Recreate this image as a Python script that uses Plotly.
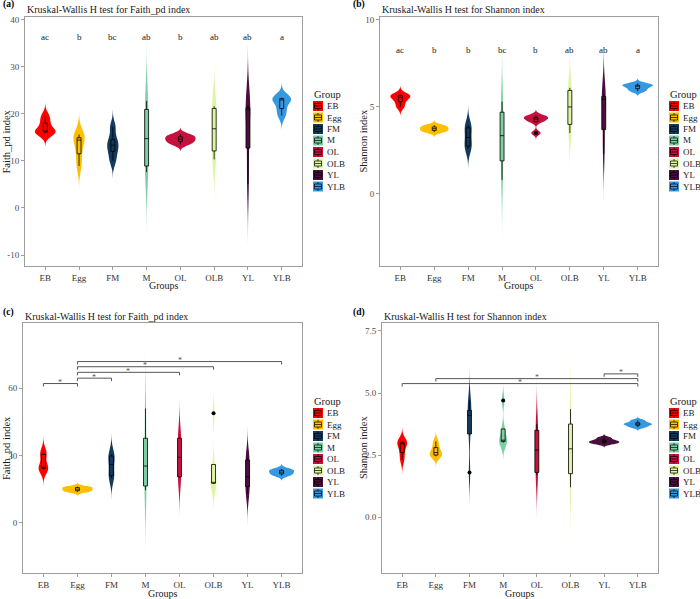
import numpy as np
import plotly.graph_objects as go

W, H = 700, 599

groups = ["EB", "Egg", "FM", "M", "OL", "OLB", "YL", "YLB"]
colors = ["#FF0000", "#FDBF00", "#133A5E", "#7FCFA4", "#C8103F", "#E0F5A3", "#4B0F3E", "#3698E0"]

# ---- values (one list per group, order = groups) ----
faith_a = [
    [15.9, 16.1, 16.3, 18.0, 19.5],
    [8.9, 11.5, 14.4, 14.9, 15.6],
    [10.0, 12.0, 13.3, 14.5, 17.2],
    [7.6, 8.9, 14.7, 20.9, 22.7],
    [13.5, 14.1, 14.6, 15.1, 15.6],
    [10.3, 12.1, 16.8, 21.1, 21.6],
    [5.0, 12.7, 20.9, 21.3, 21.8],
    [19.6, 21.1, 22.9, 23.2, 23.4],
]
shannon_b = [
    [5.0, 5.3, 5.55, 5.65, 5.7],
    [3.55, 3.65, 3.75, 3.85, 3.95],
    [2.6, 2.75, 3.25, 3.8, 3.95],
    [0.8, 1.9, 3.35, 4.7, 5.3],
    [3.5, 4.15, 4.3, 4.4, 4.5],
    [3.5, 4.0, 5.0, 5.95, 6.1],
    [2.3, 3.7, 5.45, 5.6, 5.75],
    [5.9, 6.05, 6.2, 6.25, 6.35],
]
faith_c = [
    [23.8, 24.3, 24.8, 30.5, 31.5],
    [13.8, 14.3, 15.0, 15.7, 16.1],
    [20.0, 21.0, 26.0, 29.8, 30.5],
    [14.5, 16.4, 25.3, 37.7, 51.0],
    [20.0, 20.5, 29.2, 37.7, 38.0],
    [17.3, 17.6, 18.0, 26.0, 48.8],
    [13.0, 16.1, 20.5, 28.0, 29.0],
    [21.0, 21.8, 22.6, 23.4, 24.0],
]
shannon_d = [
    [2.3, 2.6, 2.95, 3.0, 3.05],
    [2.45, 2.5, 2.6, 2.8, 3.05],
    [1.8, 3.35, 4.1, 4.3, 4.7],
    [3.0, 3.05, 3.1, 3.55, 4.7],
    [1.7, 1.8, 2.7, 3.5, 3.75],
    [1.2, 1.75, 2.75, 3.75, 4.35],
    [2.95, 3.0, 3.05, 3.1, 3.2],
    [3.62, 3.7, 3.75, 3.8, 3.9],
]

letters_a = ["ac", "b", "bc", "ab", "b", "ab", "ab", "a"]
letters_b = ["ac", "b", "b", "bc", "b", "ab", "ab", "a"]

sig_c_pairs = [("EB", "Egg"), ("Egg", "FM"), ("Egg", "OL"), ("Egg", "OLB"), ("Egg", "YLB")]
sig_c_y = [62.1, 64.5, 67.1, 69.6, 71.9]
sig_d_pairs = [("EB", "YLB"), ("Egg", "YLB"), ("YL", "YLB")]
sig_d_y = [5.38, 5.58, 5.77]

ticks_a = [-10, 0, 10, 20, 30, 40]
ticktext_a = ["-10", "0", "10", "20", "30", "40"]
ticks_b = [0, 5, 10]
ticktext_b = ["0", "5", "10"]
ticks_c = [0, 30, 60]
ticktext_c = ["0", "30", "60"]
ticks_d = [0, 2.5, 5, 7.5]
ticktext_d = ["0.0", "2.5", "5.0", "7.5"]

FONT = "Liberation Serif"
FRAME = "#9e9e9e"


def nrd0(v):
    v = np.asarray(v, float)
    hi = v.std(ddof=1)
    q75, q25 = np.percentile(v, [75, 25])
    lo = min(hi, (q75 - q25) / 1.34)
    if lo <= 0:
        lo = hi if hi > 0 else (abs(v[0]) if v[0] != 0 else 1.0)
    return 0.9 * lo * len(v) ** -0.2


def px(x):
    return x / W


def py(y):
    return 1 - y / H


panels = [
    dict(key="a", data=faith_a, xd=(25, 302), yd=(17, 266), yr=(-12.3, 40.5),
         tv=ticks_a, tt=ticktext_a, ytitle="Faith_pd index",
         title="Kruskal-Wallis H test for Faith_pd index", tag="(a)",
         tag_x=1, title_x=25, title_y=9, leg_x=313, leg_y=94, letters=letters_a, let_y=36.2,
         ytitle_x=6, xtitle_y=285.5, sig=None),
    dict(key="b", data=shannon_b, xd=(380, 658), yd=(17, 266), yr=(-4.14, 10.17),
         tv=ticks_b, tt=ticktext_b, ytitle="Shannon index",
         title="Kruskal-Wallis H test for Shannon index", tag="(b)",
         tag_x=351, title_x=380, title_y=9, leg_x=669, leg_y=94, letters=letters_b, let_y=8.3,
         ytitle_x=363, xtitle_y=285.5, sig=None),
    dict(key="c", data=faith_c, xd=(23, 302), yd=(323, 573), yr=(-22.4, 89.1),
         tv=ticks_c, tt=ticktext_c, ytitle="Faith_pd index",
         title="Kruskal-Wallis H test for Faith_pd index", tag="(c)",
         tag_x=1, title_x=23, title_y=316, leg_x=313, leg_y=401, letters=None,
         ytitle_x=6, xtitle_y=593.5, sig=(sig_c_pairs, sig_c_y, 1.3)),
    dict(key="d", data=shannon_d, xd=(382, 658), yd=(323, 573), yr=(-2.25, 7.82),
         tv=ticks_d, tt=ticktext_d, ytitle="Shannon index",
         title="Kruskal-Wallis H test for Shannon index", tag="(d)",
         tag_x=351, title_x=382, title_y=316, leg_x=669, leg_y=401, letters=None,
         ytitle_x=363, xtitle_y=593.5, sig=(sig_d_pairs, sig_d_y, 0.12)),
]

fig = go.Figure()
shapes = []
annotations = []
layout_axes = {}

for i, p in enumerate(panels):
    n = i + 1
    xa = "x" if n == 1 else f"x{n}"
    ya = "y" if n == 1 else f"y{n}"
    xname = "xaxis" if n == 1 else f"xaxis{n}"
    yname = "yaxis" if n == 1 else f"yaxis{n}"

    for g, col, vals in zip(groups, colors, p["data"]):
        bw = nrd0(vals)
        fig.add_trace(go.Violin(
            x=[g] * len(vals), y=vals, name=g, xaxis=xa, yaxis=ya,
            fillcolor=col, line=dict(color=col, width=0), opacity=1,
            scalegroup=p["key"], scalemode="width",
            bandwidth=bw, spanmode="manual", span=[min(vals) - 3 * bw, max(vals) + 3 * bw],
            box=dict(visible=True, width=0.13, fillcolor=col,
                     line=dict(color="black", width=0.8)),
            meanline=dict(visible=False), quartilemethod="inclusive",
            points="outliers", pointpos=0, jitter=0,
            marker=dict(color="black", size=4, line=dict(width=0)),
            showlegend=False, hoverinfo="skip",
        ))

    layout_axes[xname] = dict(
        domain=[px(p["xd"][0]), px(p["xd"][1])], anchor=ya, automargin=False,
        type="category", categoryorder="array", categoryarray=groups,
        range=[-0.6, 7.6], showgrid=False, zeroline=False,
        showline=True, mirror=True, linecolor=FRAME, linewidth=1,
        ticks="outside", ticklen=3, tickcolor=FRAME,
        tickfont=dict(family=FONT, size=9, color="#333333"),
    )
    layout_axes[yname] = dict(
        domain=[py(p["yd"][1]), py(p["yd"][0])], anchor=xa, automargin=False,
        range=list(p["yr"]), tickvals=p["tv"], ticktext=p["tt"],
        showgrid=False, zeroline=False,
        showline=True, mirror=True, linecolor=FRAME, linewidth=1,
        ticks="outside", ticklen=3, tickcolor=FRAME,
        tickfont=dict(family=FONT, size=9, color="#4d4d4d"),
    )

    # axis titles
    annotations.append(dict(text="Groups", x=px((p["xd"][0] + p["xd"][1]) / 2), y=py(p["xtitle_y"]),
                            xref="paper", yref="paper", xanchor="center", yanchor="middle",
                            showarrow=False, font=dict(family=FONT, size=10, color="#1a1a1a")))
    annotations.append(dict(text=p["ytitle"], x=px(p["ytitle_x"]), y=py((p["yd"][0] + p["yd"][1]) / 2),
                            xref="paper", yref="paper", xanchor="center", yanchor="middle",
                            textangle=-90, showarrow=False,
                            font=dict(family=FONT, size=10.5, color="#1a1a1a")))

    # panel tag and title
    annotations.append(dict(text="<b>" + p["tag"] + "</b>", x=px(p["tag_x"]), y=py(p["title_y"] - 4),
                            xref="paper", yref="paper", xanchor="left", yanchor="middle",
                            showarrow=False, font=dict(family=FONT, size=9.5, color="black")))
    annotations.append(dict(text=p["title"], x=px(p["title_x"]), y=py(p["title_y"]),
                            xref="paper", yref="paper", xanchor="left", yanchor="middle",
                            showarrow=False, font=dict(family=FONT, size=10, color="#1a1a1a")))

    # letters
    if p["letters"]:
        for g, lt in zip(groups, p["letters"]):
            annotations.append(dict(text=lt, x=g, y=p["let_y"], xref=xa, yref=ya,
                                    showarrow=False, font=dict(family=FONT, size=9, color="#1a1a1a")))

    # significance brackets
    if p["sig"]:
        pairs, ys, tip = p["sig"]
        for (g1, g2), yv in zip(pairs, ys):
            i1, i2 = groups.index(g1), groups.index(g2)
            ln = dict(color="#555555", width=1)
            shapes.append(dict(type="line", xref=xa, yref=ya, x0=i1, x1=i2, y0=yv, y1=yv, line=ln))
            shapes.append(dict(type="line", xref=xa, yref=ya, x0=i1, x1=i1, y0=yv, y1=yv - tip, line=ln))
            shapes.append(dict(type="line", xref=xa, yref=ya, x0=i2, x1=i2, y0=yv, y1=yv - tip, line=ln))
            annotations.append(dict(text="*", x=(i1 + i2) / 2, y=yv, xref=xa, yref=ya,
                                    yanchor="middle", yshift=1, showarrow=False,
                                    font=dict(family=FONT, size=8, color="#555555")))

    # legend (ggplot-style key)
    lx, ly = p["leg_x"], p["leg_y"]
    annotations.append(dict(text="Group", x=px(lx - 1), y=py(ly), xref="paper", yref="paper",
                            xanchor="left", yanchor="middle", showarrow=False,
                            font=dict(family=FONT, size=10.5, color="#1a1a1a")))
    for k, (g, col) in enumerate(zip(groups, colors)):
        cy = ly + 12 + k * 11.5
        x0, x1 = lx, lx + 10
        y0, y1 = cy - 5, cy + 5
        shapes.append(dict(type="rect", xref="paper", yref="paper",
                           x0=px(x0), x1=px(x1), y0=py(y1), y1=py(y0),
                           fillcolor=col, line=dict(width=0)))
        shapes.append(dict(type="rect", xref="paper", yref="paper",
                           x0=px(x0 + 1.5), x1=px(x1 - 1.5), y0=py(cy + 2.5), y1=py(cy - 2.5),
                           fillcolor="rgba(0,0,0,0)", line=dict(color="black", width=0.7)))
        shapes.append(dict(type="line", xref="paper", yref="paper",
                           x0=px(x0 + 1.5), x1=px(x1 - 1.5), y0=py(cy), y1=py(cy),
                           line=dict(color="black", width=0.7)))
        shapes.append(dict(type="line", xref="paper", yref="paper",
                           x0=px(lx + 5), x1=px(lx + 5), y0=py(y0 + 0.5), y1=py(cy - 2.5),
                           line=dict(color="black", width=0.7)))
        shapes.append(dict(type="line", xref="paper", yref="paper",
                           x0=px(lx + 5), x1=px(lx + 5), y0=py(cy + 2.5), y1=py(y1 - 0.5),
                           line=dict(color="black", width=0.7)))
        annotations.append(dict(text=g, x=px(lx + 12), y=py(cy), xref="paper", yref="paper",
                                xanchor="left", yanchor="middle", showarrow=False,
                                font=dict(family=FONT, size=9, color="#1a1a1a")))

fig.update_layout(
    width=W, height=H, autosize=False,
    margin=dict(l=0, r=0, t=0, b=0),
    paper_bgcolor="white", plot_bgcolor="white",
    font=dict(family=FONT),
    violinmode="overlay", violingap=0.1, violingroupgap=0, showlegend=False,
    shapes=shapes, annotations=annotations,
    **layout_axes,
)

fig.write_html("out.html", config={"displayModeBar": False},
               post_script="document.body.style.margin='0';document.body.style.overflow='hidden';")
